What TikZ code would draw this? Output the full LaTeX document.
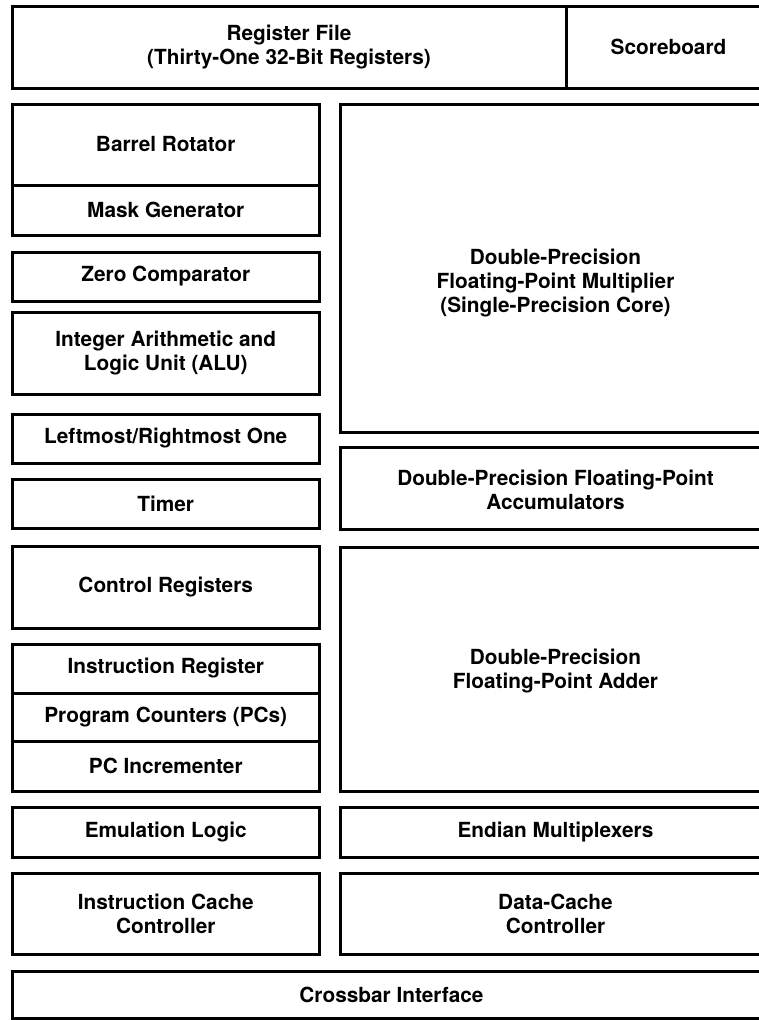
\documentclass[tikz,border=0pt]{standalone}
\usepackage{fontspec}
\setmainfont{TeX Gyre Heros}
\usetikzlibrary{fit}
\begin{document}
\begin{tikzpicture}[x=1pt,y=-1pt,
  txt/.style={font=\bfseries\fontsize{20.8}{24}\selectfont, align=center},
  blk/.style={draw=black, line width=3pt, inner sep=0pt},
  lbl/.style={inner sep=0pt, txt}]
\fill[white] (0,0) rectangle (759,1020);
\begin{scope}
\clip (0,0) rectangle (759,1020);
% top row
\node[blk, fit={(12,6)(566,88)}, label={[lbl]center:{Register File\\(Thirty-One 32-Bit Registers)}}] (regfile) {};
\node[blk, fit={(566,6)(771,88)}, label={[lbl]center:{Scoreboard}}] (score) {};
% left column
\node[blk, fit={(12,104)(319.5,185)}, label={[lbl]center:{Barrel Rotator}}] (barrel) {};
\node[blk, fit={(12,185)(319.5,235)}, label={[lbl]center:{Mask Generator}}] (mask) {};
\node[blk, fit={(12,252)(319.5,301)}, label={[lbl]center:{Zero Comparator}}] (zero) {};
\node[blk, fit={(12,312)(319.5,394)}, label={[lbl]center:{Integer Arithmetic and\\Logic Unit (ALU)}}] (alu) {};
\node[blk, fit={(12,414)(319.5,463)}, label={[lbl]center:{Leftmost/Rightmost One}}] (lmro) {};
\node[blk, fit={(12,479)(319.5,528)}, label={[lbl]center:{Timer}}] (timer) {};
\node[blk, fit={(12,546)(319.5,628)}, label={[lbl]center:{Control Registers}}] (ctrl) {};
\node[blk, fit={(12,644)(319.5,693)}, label={[lbl]center:{Instruction Register}}] (ireg) {};
\node[blk, fit={(12,693)(319.5,741)}, label={[lbl]center:{Program Counters (PCs)}}] (pcs) {};
\node[blk, fit={(12,741)(319.5,791)}, label={[lbl]center:{PC Incrementer}}] (pcinc) {};
\node[blk, fit={(12,807)(319.5,857)}, label={[lbl]center:{Emulation Logic}}] (emul) {};
\node[blk, fit={(12,873)(319.5,954)}, label={[lbl]center:{Instruction Cache\\Controller}}] (icache) {};
% right column
\node[blk, fit={(340,104)(771,432)}, label={[lbl, yshift=-15pt]center:{Double-Precision\\Floating-Point Multiplier\\(Single-Precision Core)}}] (mult) {};
\node[blk, fit={(340,447)(771,529)}, label={[lbl, yshift=-2pt]center:{Double-Precision Floating-Point\\Accumulators}}] (accum) {};
\node[blk, fit={(340,547)(771,791)}, label={[lbl, yshift=-2pt]center:{Double-Precision\\Floating-Point Adder}}] (adder) {};
\node[blk, fit={(340,807)(771,857)}, label={[lbl]center:{Endian Multiplexers}}] (endian) {};
\node[blk, fit={(340,873)(771,954)}, label={[lbl]center:{Data-Cache\\Controller}}] (dcache) {};
% bottom
\node[blk, fit={(12,971)(771,1018.5)}, label={[lbl]center:{Crossbar Interface}}] (xbar) {};
\end{scope}
\pgfresetboundingbox
\useasboundingbox (0,0) rectangle (759,1020);
\end{tikzpicture}
\end{document}
